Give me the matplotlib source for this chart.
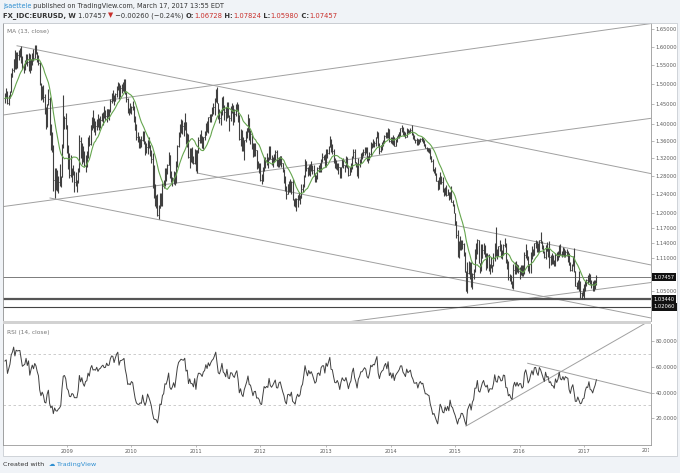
import numpy as np
import pandas as pd
import matplotlib
matplotlib.use('Agg')
import matplotlib.pyplot as plt
from matplotlib.patches import Rectangle
from matplotlib.ticker import FixedLocator, FormatStrFormatter, NullLocator
from matplotlib.transforms import Bbox, TransformedBbox, blended_transform_factory

W, H = 680, 473

# weekly closes Jul 2007 - Jan 14 2008, only used to warm up MA(13) and RSI(14)
close_2007 = [1.362, 1.378, 1.383, 1.370, 1.378, 1.374, 1.343, 1.365, 1.369, 1.375,
              1.388, 1.407, 1.426, 1.419, 1.418, 1.428, 1.435, 1.451, 1.467, 1.465,
              1.482, 1.463, 1.465, 1.443, 1.437, 1.459, 1.476, 1.478, 1.464]

# EURUSD weekly bars, first bar = week of Jan 21 2008
close_2008 = [1.476, 1.480, 1.451, 1.466, 1.481, 1.520, 1.536, 1.566, 1.545, 1.580,
              1.578, 1.580, 1.581, 1.563, 1.544, 1.548, 1.552, 1.576, 1.559, 1.578,
              1.538, 1.560, 1.580, 1.569, 1.593, 1.586, 1.569, 1.556, 1.501, 1.471,
              1.483, 1.467, 1.426, 1.421, 1.449, 1.463, 1.379, 1.342, 1.349, 1.271,
              1.293, 1.264, 1.259, 1.266, 1.270, 1.278, 1.345, 1.410, 1.414, 1.397]
high_2008 = [1.478, 1.489, 1.483, 1.472, 1.483, 1.530, 1.543, 1.568, 1.590, 1.585,
             1.585, 1.591, 1.598, 1.602, 1.575, 1.553, 1.563, 1.580, 1.580, 1.583,
             1.580, 1.567, 1.582, 1.595, 1.604, 1.604, 1.587, 1.578, 1.560, 1.504,
             1.495, 1.497, 1.475, 1.442, 1.447, 1.487, 1.468, 1.400, 1.382, 1.351,
             1.298, 1.298, 1.293, 1.279, 1.307, 1.281, 1.352, 1.472, 1.420, 1.426]
low_2008 = [1.453, 1.465, 1.449, 1.447, 1.464, 1.479, 1.518, 1.532, 1.539, 1.541,
            1.543, 1.564, 1.573, 1.557, 1.539, 1.530, 1.536, 1.552, 1.547, 1.535,
            1.529, 1.536, 1.551, 1.562, 1.570, 1.580, 1.558, 1.550, 1.497, 1.459,
            1.463, 1.455, 1.424, 1.388, 1.393, 1.446, 1.374, 1.339, 1.334, 1.248,
            1.233, 1.250, 1.248, 1.242, 1.257, 1.256, 1.277, 1.343, 1.388, 1.389]

close_2009 = [1.339, 1.327, 1.283, 1.280, 1.294, 1.289, 1.266, 1.266, 1.266, 1.291,
              1.359, 1.327, 1.348, 1.317, 1.302, 1.325, 1.328, 1.367, 1.353, 1.397,
              1.415, 1.396, 1.398, 1.396, 1.411, 1.396, 1.407, 1.411, 1.420, 1.425,
              1.418, 1.419, 1.436, 1.430, 1.432, 1.457, 1.470, 1.469, 1.456, 1.474,
              1.491, 1.501, 1.472, 1.491, 1.492, 1.495, 1.500, 1.476, 1.461, 1.434,
              1.436, 1.433]
high_2009 = [1.398, 1.350, 1.331, 1.327, 1.298, 1.305, 1.290, 1.289, 1.272, 1.297,
             1.374, 1.368, 1.356, 1.348, 1.336, 1.327, 1.336, 1.369, 1.373, 1.397,
             1.418, 1.434, 1.415, 1.408, 1.412, 1.424, 1.416, 1.419, 1.426, 1.430,
             1.444, 1.434, 1.437, 1.436, 1.437, 1.461, 1.478, 1.484, 1.473, 1.478,
             1.496, 1.506, 1.503, 1.497, 1.501, 1.505, 1.514, 1.514, 1.481, 1.464,
             1.440, 1.451]
low_2009 = [1.332, 1.295, 1.276, 1.277, 1.267, 1.282, 1.246, 1.257, 1.245, 1.264,
            1.289, 1.320, 1.307, 1.311, 1.302, 1.289, 1.300, 1.321, 1.349, 1.350,
            1.386, 1.390, 1.382, 1.373, 1.386, 1.392, 1.385, 1.390, 1.407, 1.399,
            1.416, 1.409, 1.404, 1.417, 1.409, 1.430, 1.453, 1.457, 1.448, 1.456,
            1.468, 1.486, 1.462, 1.466, 1.478, 1.482, 1.480, 1.474, 1.455, 1.427,
            1.421, 1.427]

close_2010 = [1.441, 1.438, 1.414, 1.387, 1.368, 1.362, 1.361, 1.364, 1.362, 1.377,
              1.353, 1.339, 1.346, 1.361, 1.350, 1.336, 1.317, 1.276, 1.235, 1.228,
              1.226, 1.197, 1.212, 1.239, 1.236, 1.259, 1.264, 1.293, 1.291, 1.305,
              1.328, 1.276, 1.267, 1.275, 1.289, 1.271, 1.305, 1.349, 1.378, 1.388,
              1.397, 1.395, 1.394, 1.404, 1.367, 1.371, 1.323, 1.341, 1.322, 1.322,
              1.309, 1.338]
high_2010 = [1.445, 1.458, 1.445, 1.420, 1.400, 1.381, 1.372, 1.364, 1.372, 1.383,
             1.383, 1.359, 1.356, 1.363, 1.369, 1.350, 1.339, 1.331, 1.305, 1.262,
             1.239, 1.240, 1.217, 1.242, 1.243, 1.264, 1.271, 1.298, 1.297, 1.307,
             1.333, 1.326, 1.291, 1.278, 1.291, 1.289, 1.313, 1.351, 1.380, 1.400,
             1.412, 1.409, 1.404, 1.428, 1.402, 1.379, 1.377, 1.344, 1.344, 1.345,
             1.325, 1.342]
low_2010 = [1.425, 1.435, 1.404, 1.386, 1.361, 1.357, 1.344, 1.343, 1.345, 1.360,
            1.352, 1.327, 1.332, 1.329, 1.344, 1.326, 1.309, 1.253, 1.232, 1.215,
            1.211, 1.194, 1.188, 1.211, 1.216, 1.215, 1.253, 1.259, 1.270, 1.284,
            1.305, 1.276, 1.266, 1.259, 1.263, 1.260, 1.265, 1.301, 1.345, 1.368,
            1.378, 1.377, 1.371, 1.386, 1.353, 1.346, 1.321, 1.297, 1.312, 1.310,
            1.306, 1.307]

close_2011 = [1.292, 1.338, 1.362, 1.362, 1.358, 1.350, 1.369, 1.375, 1.402, 1.390,
              1.418, 1.408, 1.424, 1.436, 1.443, 1.460, 1.481, 1.453, 1.420, 1.416,
              1.433, 1.464, 1.435, 1.430, 1.418, 1.450, 1.418, 1.415, 1.440, 1.439,
              1.429, 1.424, 1.440, 1.449, 1.421, 1.365, 1.379, 1.350, 1.339, 1.362,
              1.376, 1.391, 1.414, 1.378, 1.376, 1.353, 1.324, 1.338, 1.339, 1.304,
              1.305, 1.296]
high_2011 = [1.339, 1.338, 1.369, 1.376, 1.386, 1.372, 1.370, 1.383, 1.403, 1.408,
             1.418, 1.425, 1.425, 1.443, 1.452, 1.465, 1.487, 1.494, 1.453, 1.436,
             1.432, 1.468, 1.470, 1.447, 1.441, 1.455, 1.454, 1.422, 1.445, 1.453,
             1.446, 1.437, 1.449, 1.455, 1.449, 1.422, 1.389, 1.385, 1.370, 1.362,
             1.383, 1.389, 1.425, 1.415, 1.386, 1.379, 1.355, 1.354, 1.355, 1.339,
             1.313, 1.310]
low_2011 = [1.292, 1.287, 1.332, 1.355, 1.355, 1.343, 1.342, 1.361, 1.373, 1.381,
            1.379, 1.405, 1.404, 1.419, 1.425, 1.422, 1.455, 1.451, 1.412, 1.402,
            1.397, 1.421, 1.434, 1.410, 1.407, 1.416, 1.422, 1.384, 1.407, 1.427,
            1.399, 1.404, 1.420, 1.433, 1.406, 1.362, 1.349, 1.336, 1.336, 1.315,
            1.357, 1.366, 1.382, 1.361, 1.353, 1.342, 1.323, 1.325, 1.324, 1.295,
            1.298, 1.286]

close_2012 = [1.272, 1.268, 1.294, 1.321, 1.315, 1.320, 1.316, 1.345, 1.319, 1.312,
              1.318, 1.326, 1.334, 1.308, 1.307, 1.321, 1.324, 1.308, 1.292, 1.278,
              1.252, 1.241, 1.263, 1.264, 1.257, 1.266, 1.229, 1.224, 1.216, 1.230,
              1.238, 1.229, 1.233, 1.251, 1.257, 1.280, 1.313, 1.298, 1.286, 1.304,
              1.295, 1.302, 1.294, 1.283, 1.271, 1.275, 1.297, 1.299, 1.293, 1.316,
              1.322, 1.322, 1.307]
high_2012 = [1.308, 1.285, 1.299, 1.322, 1.323, 1.332, 1.322, 1.349, 1.349, 1.327,
             1.322, 1.330, 1.339, 1.338, 1.318, 1.322, 1.326, 1.325, 1.310, 1.295,
             1.280, 1.257, 1.263, 1.270, 1.274, 1.268, 1.273, 1.230, 1.233, 1.233,
             1.239, 1.245, 1.238, 1.263, 1.262, 1.282, 1.317, 1.313, 1.299, 1.304,
             1.306, 1.314, 1.304, 1.305, 1.286, 1.282, 1.299, 1.304, 1.309, 1.317,
             1.331, 1.328, 1.330]
low_2012 = [1.270, 1.262, 1.270, 1.290, 1.298, 1.304, 1.297, 1.316, 1.318, 1.304,
            1.300, 1.311, 1.316, 1.303, 1.300, 1.300, 1.305, 1.300, 1.288, 1.264,
            1.248, 1.229, 1.240, 1.246, 1.245, 1.240, 1.228, 1.216, 1.214, 1.204,
            1.213, 1.227, 1.220, 1.232, 1.246, 1.255, 1.277, 1.291, 1.280, 1.283,
            1.279, 1.290, 1.285, 1.280, 1.267, 1.266, 1.273, 1.288, 1.288, 1.288,
            1.312, 1.315, 1.299]

close_2013 = [1.338, 1.331, 1.346, 1.364, 1.337, 1.336, 1.319, 1.302, 1.301, 1.307,
              1.299, 1.282, 1.299, 1.311, 1.305, 1.303, 1.311, 1.299, 1.283, 1.294,
              1.300, 1.322, 1.334, 1.312, 1.301, 1.283, 1.306, 1.314, 1.328, 1.328,
              1.334, 1.340, 1.337, 1.322, 1.318, 1.329, 1.352, 1.349, 1.356, 1.355,
              1.368, 1.380, 1.349, 1.336, 1.350, 1.356, 1.359, 1.371, 1.378, 1.368,
              1.389, 1.359]
high_2013 = [1.340, 1.341, 1.349, 1.371, 1.365, 1.352, 1.340, 1.320, 1.315, 1.310,
             1.308, 1.300, 1.300, 1.319, 1.320, 1.305, 1.324, 1.323, 1.300, 1.300,
             1.310, 1.324, 1.342, 1.342, 1.312, 1.309, 1.320, 1.317, 1.331, 1.335,
             1.340, 1.345, 1.345, 1.345, 1.324, 1.333, 1.357, 1.355, 1.365, 1.360,
             1.370, 1.383, 1.381, 1.354, 1.350, 1.357, 1.363, 1.375, 1.381, 1.381,
             1.390, 1.383]
low_2013 = [1.299, 1.321, 1.329, 1.346, 1.335, 1.329, 1.310, 1.298, 1.295, 1.293,
            1.284, 1.275, 1.275, 1.299, 1.298, 1.289, 1.300, 1.297, 1.280, 1.282,
            1.289, 1.296, 1.321, 1.310, 1.300, 1.281, 1.276, 1.300, 1.310, 1.318,
            1.326, 1.327, 1.331, 1.314, 1.310, 1.316, 1.326, 1.343, 1.346, 1.346,
            1.348, 1.366, 1.347, 1.330, 1.335, 1.339, 1.349, 1.354, 1.367, 1.366,
            1.366, 1.358]

close_2014 = [1.367, 1.354, 1.368, 1.349, 1.363, 1.369, 1.374, 1.380, 1.391, 1.391,
              1.379, 1.375, 1.370, 1.388, 1.381, 1.384, 1.387, 1.376, 1.371, 1.363,
              1.363, 1.364, 1.354, 1.361, 1.364, 1.360, 1.361, 1.352, 1.343, 1.343,
              1.341, 1.340, 1.324, 1.313, 1.295, 1.296, 1.283, 1.268, 1.252, 1.263,
              1.276, 1.267, 1.248, 1.245, 1.253, 1.239, 1.245, 1.229, 1.245, 1.223,
              1.218, 1.200]
high_2014 = [1.368, 1.370, 1.373, 1.370, 1.364, 1.371, 1.377, 1.382, 1.391, 1.397,
             1.393, 1.383, 1.381, 1.390, 1.388, 1.387, 1.390, 1.399, 1.378, 1.375,
             1.364, 1.367, 1.365, 1.364, 1.366, 1.370, 1.366, 1.362, 1.352, 1.346,
             1.343, 1.343, 1.340, 1.323, 1.319, 1.296, 1.299, 1.287, 1.271, 1.277,
             1.289, 1.280, 1.278, 1.254, 1.255, 1.260, 1.252, 1.246, 1.246, 1.257,
             1.227, 1.220]
low_2014 = [1.355, 1.352, 1.350, 1.348, 1.348, 1.358, 1.366, 1.366, 1.372, 1.382,
            1.374, 1.371, 1.367, 1.369, 1.378, 1.379, 1.379, 1.375, 1.365, 1.362,
            1.355, 1.350, 1.350, 1.353, 1.357, 1.359, 1.356, 1.349, 1.343, 1.337,
            1.333, 1.332, 1.319, 1.312, 1.292, 1.286, 1.282, 1.268, 1.250, 1.253,
            1.262, 1.262, 1.245, 1.236, 1.239, 1.237, 1.240, 1.228, 1.229, 1.223,
            1.215, 1.200]

close_2015 = [1.184, 1.156, 1.120, 1.129, 1.131, 1.139, 1.138, 1.119, 1.084, 1.050,
              1.082, 1.090, 1.097, 1.060, 1.080, 1.087, 1.120, 1.120, 1.145, 1.101,
              1.096, 1.111, 1.126, 1.135, 1.117, 1.110, 1.116, 1.088, 1.098, 1.098,
              1.097, 1.111, 1.138, 1.118, 1.115, 1.134, 1.130, 1.120, 1.121, 1.136,
              1.135, 1.102, 1.101, 1.074, 1.077, 1.065, 1.059, 1.088, 1.099, 1.087,
              1.097, 1.086]
high_2015 = [1.201, 1.184, 1.165, 1.143, 1.153, 1.145, 1.145, 1.139, 1.122, 1.087,
             1.104, 1.105, 1.104, 1.103, 1.082, 1.089, 1.129, 1.139, 1.147, 1.146,
             1.102, 1.138, 1.138, 1.139, 1.136, 1.120, 1.120, 1.119, 1.099, 1.112,
             1.098, 1.121, 1.140, 1.171, 1.129, 1.133, 1.145, 1.138, 1.127, 1.138,
             1.150, 1.139, 1.108, 1.105, 1.081, 1.079, 1.068, 1.099, 1.104, 1.105,
             1.099, 1.097]
low_2015 = [1.176, 1.149, 1.112, 1.110, 1.127, 1.127, 1.128, 1.115, 1.084, 1.050,
            1.046, 1.080, 1.072, 1.056, 1.052, 1.071, 1.085, 1.108, 1.118, 1.101,
            1.082, 1.087, 1.110, 1.118, 1.113, 1.088, 1.091, 1.087, 1.081, 1.092,
            1.084, 1.096, 1.105, 1.115, 1.109, 1.115, 1.125, 1.110, 1.109, 1.117,
            1.132, 1.101, 1.089, 1.070, 1.067, 1.062, 1.055, 1.052, 1.080, 1.080,
            1.084, 1.083]

close_2016 = [1.092, 1.092, 1.080, 1.083, 1.116, 1.126, 1.113, 1.093, 1.100, 1.115,
              1.127, 1.117, 1.139, 1.140, 1.128, 1.122, 1.145, 1.140, 1.131, 1.122,
              1.113, 1.137, 1.125, 1.127, 1.112, 1.114, 1.105, 1.104, 1.098, 1.117,
              1.109, 1.116, 1.132, 1.118, 1.116, 1.123, 1.116, 1.123, 1.121, 1.120,
              1.097, 1.088, 1.098, 1.103, 1.086, 1.059, 1.059, 1.066, 1.056, 1.045,
              1.046, 1.052]
high_2016 = [1.094, 1.097, 1.097, 1.098, 1.123, 1.138, 1.127, 1.114, 1.100, 1.122,
             1.134, 1.128, 1.140, 1.145, 1.144, 1.140, 1.146, 1.162, 1.144, 1.136,
             1.124, 1.137, 1.141, 1.130, 1.143, 1.117, 1.120, 1.116, 1.107, 1.120,
             1.123, 1.125, 1.136, 1.138, 1.124, 1.133, 1.130, 1.127, 1.128, 1.124,
             1.121, 1.103, 1.099, 1.114, 1.130, 1.087, 1.065, 1.069, 1.087, 1.067,
             1.048, 1.055]
low_2016 = [1.071, 1.078, 1.077, 1.077, 1.080, 1.110, 1.107, 1.087, 1.082, 1.082,
            1.109, 1.114, 1.116, 1.131, 1.123, 1.122, 1.122, 1.140, 1.128, 1.120,
            1.110, 1.108, 1.126, 1.113, 1.091, 1.098, 1.100, 1.100, 1.095, 1.096,
            1.106, 1.107, 1.113, 1.117, 1.112, 1.116, 1.113, 1.112, 1.114, 1.104,
            1.097, 1.086, 1.086, 1.096, 1.085, 1.059, 1.052, 1.053, 1.050, 1.037,
            1.035, 1.040]

close_2017 = [1.053, 1.064, 1.070, 1.069, 1.078, 1.063, 1.062, 1.056, 1.062, 1.067, 1.075]
high_2017 = [1.062, 1.068, 1.071, 1.078, 1.083, 1.080, 1.070, 1.068, 1.069, 1.070, 1.078]
low_2017 = [1.034, 1.049, 1.058, 1.062, 1.066, 1.062, 1.055, 1.049, 1.049, 1.052, 1.060]

price_ticks = [1.65, 1.60, 1.55, 1.50, 1.45, 1.40, 1.36, 1.32, 1.28, 1.24,
               1.20, 1.17, 1.14, 1.11, 1.05]
levels = [1.07457, 1.03440, 1.02060]
rsi_ticks = [20, 40, 60, 80]

# drawn trendlines: (bar index, price) -> (bar index, price)
price_lines = [((9.7, 1.603), (521.05, 1.2852)),
               ((-1.6, 1.4222), (521.05, 1.6658)),
               ((-1.6, 1.2140), (521.05, 1.4141)),
               ((36.3, 1.2322), (521.05, 1.0014)),
               ((154.9, 1.2866), (521.05, 1.0975)),
               ((270.2, 0.9929), (521.05, 1.0647))]
rsi_lines = [((371.8, 14.1), (530.0, 100.9)),
             ((421.6, 62.6), (521.05, 39.4))]

years_close = [close_2008, close_2009, close_2010, close_2011, close_2012,
               close_2013, close_2014, close_2015, close_2016, close_2017]
years_high = [high_2008, high_2009, high_2010, high_2011, high_2012,
              high_2013, high_2014, high_2015, high_2016, high_2017]
years_low = [low_2008, low_2009, low_2010, low_2011, low_2012,
             low_2013, low_2014, low_2015, low_2016, low_2017]

close = np.array(sum(years_close, []))
high = np.array(sum(years_high, []))
low = np.array(sum(years_low, []))
n = len(close)
opens = np.concatenate([[close_2007[-1]], close[:-1]])
high = np.maximum(high, np.maximum(opens, close))
low = np.minimum(low, np.minimum(opens, close))

full = np.concatenate([close_2007, close])
warm = len(close_2007)
ma13 = pd.Series(full).rolling(13).mean().values[warm:]


def rsi14(c):
    d = np.diff(c)
    g = np.where(d > 0, d, 0.0)
    l = np.where(d < 0, -d, 0.0)
    out = np.full(len(c), np.nan)
    ag, al = g[:14].mean(), l[:14].mean()
    out[14] = 100 - 100 / (1 + ag / al)
    for k in range(14, len(d)):
        ag = (ag * 13 + g[k]) / 14
        al = (al * 13 + l[k]) / 14
        out[k + 1] = 100 - 100 / (1 + ag / al)
    return out


rsi = rsi14(full)[warm:]

weeks = pd.date_range('2008-01-21', '2018-02-01', freq='W-MON')
year_pos = [int(np.argmax(weeks.year == y)) for y in range(2009, 2019)]
year_lab = [str(y) for y in range(2009, 2019)]

bar_col = '#404040'
ma_col = '#66a64f'
line_col = '#a0a0a0'
txt_col = '#333333'
axis_txt = '#5a5a5a'
red = '#c9302c'
blue = '#2f8fd1'


def px_rect(x0, y0, x1, y1):
    return [x0 / W, 1 - y1 / H, (x1 - x0) / W, (y1 - y0) / H]


fig = plt.figure(figsize=(6.8, 4.73), dpi=100, facecolor='#f0f3f7')
fig.patches.append(Rectangle((3 / W, 1 - 456 / H), 674 / W, (456 - 22.7) / H,
                             transform=fig.transFigure, fc='white', ec='#c9cdd3',
                             lw=0.6, zorder=-5))

xs = np.arange(n)
xlim = (-1.6, 521.05)

# price pane
ax = fig.add_axes(px_rect(3, 22.7, 651, 321))
ax.set_facecolor('none')
ax.set_yscale('log')
ax.set_xlim(*xlim)
ax.set_ylim(0.9962, 1.6682)
for (x0, y0), (x1, y1) in price_lines:
    ax.plot([x0, x1], [y0, y1], color=line_col, lw=0.7, zorder=1)
ax.axhline(levels[0], color='#666666', lw=0.6, zorder=1)
ax.axhline(levels[1], color='#555555', lw=1.6, zorder=1)
ax.axhline(levels[2], color='#444444', lw=0.8, zorder=1)
ax.vlines(xs, low, high, color=bar_col, lw=0.8, zorder=2)
ax.hlines(opens, xs - 0.45, xs, color=bar_col, lw=0.5, zorder=2)
ax.hlines(close, xs, xs + 0.45, color=bar_col, lw=0.5, zorder=2)
ax.plot(xs, ma13, color=ma_col, lw=0.8, zorder=3)

ax.yaxis.tick_right()
ax.yaxis.set_major_locator(FixedLocator(price_ticks))
ax.yaxis.set_major_formatter(FormatStrFormatter('%.5f'))
ax.yaxis.set_minor_locator(NullLocator())
ax.yaxis.set_minor_formatter(plt.NullFormatter())
ax.tick_params(axis='y', which='major', labelsize=3.7, labelcolor=axis_txt,
               length=2, width=0.4, color='#888888', pad=1.5)
ax.set_xticks([])
ax.spines['bottom'].set_visible(False)
ax.spines['top'].set_color('#c9cdd3')
ax.spines['left'].set_color('#999999')
ax.spines['right'].set_color('#999999')
for s in ax.spines.values():
    s.set_linewidth(0.6)

tr = blended_transform_factory(ax.transAxes, ax.transData)
for lv in levels:
    ax.text(1.004, lv, f'{lv:.5f}', transform=tr, fontsize=3.7, color='white',
            va='center', ha='left', clip_on=False, zorder=5,
            bbox=dict(boxstyle='square,pad=0.3', fc='#111111', ec='none'))

# separator between panes
fig.patches.append(Rectangle((3 / W, 1 - 323.5 / H), 648 / W, 2.5 / H,
                             transform=fig.transFigure, fc='#d2d2d2', ec='none'))

# RSI pane
ax2 = fig.add_axes(px_rect(3, 323.5, 651, 445))
ax2.set_facecolor('none')
ax2.set_xlim(*xlim)
ax2.set_ylim(-0.5, 93.3)
ax2.axhline(70, color='#c4c4c4', lw=0.6, ls=(0, (3, 3)))
ax2.axhline(30, color='#c4c4c4', lw=0.6, ls=(0, (3, 3)))
for (x0, y0), (x1, y1) in rsi_lines:
    ax2.plot([x0, x1], [y0, y1], color=line_col, lw=0.7)
ax2.plot(xs, rsi, color='#3f3f3f', lw=0.7)

ax2.yaxis.tick_right()
ax2.set_yticks(rsi_ticks)
ax2.yaxis.set_major_formatter(FormatStrFormatter('%.4f'))
ax2.tick_params(axis='y', labelsize=3.7, labelcolor=axis_txt, length=2,
                width=0.4, color='#888888', pad=1.5)
ax2.set_xticks(year_pos[:-1])
ax2.set_xticklabels(year_lab[:-1])
ax2.tick_params(axis='x', labelsize=3.6, labelcolor=axis_txt, length=1.5,
                width=0.4, color='#888888', pad=1.5)
ax2.spines['top'].set_visible(False)
for s in ['left', 'right', 'bottom']:
    ax2.spines[s].set_color('#999999')
    ax2.spines[s].set_linewidth(0.6)

# last year label is cut by the price scale
clip = TransformedBbox(Bbox([[0, 0], [649 / W, 1]]), fig.transFigure)
xd = ax2.transData.transform((year_pos[-1], 0))[0]
t = fig.text(xd / fig.bbox.width, 1 - 450.5 / H, year_lab[-1], fontsize=3.6,
             color=axis_txt, ha='center', va='center')
t.set_clip_box(clip)
t.set_clip_on(True)

fig.text(7 / W, 1 - 32 / H, 'MA (13, close)', fontsize=4.2, color='#777777',
         va='center')
fig.text(7 / W, 1 - 332.7 / H, 'RSI (14, close)', fontsize=4.2, color='#777777',
         va='center')

renderer = fig.canvas.get_renderer()


def runs(x, y, parts, size):
    for s, col, wt in parts:
        tt = fig.text(x / W, 1 - y / H, s, fontsize=size, color=col,
                      fontweight=wt, va='center', ha='left')
        x += tt.get_window_extent(renderer).width


runs(3, 6, [('jsaettele', blue, 'normal'),
            (' published on TradingView.com, March 17, 2017 13:55 EDT', txt_col, 'normal')], 4.7)
runs(3, 15.5, [('FX_IDC:EURUSD, W', txt_col, 'bold'),
               (' 1.07457 ', txt_col, 'normal'),
               ('\u25bc', red, 'normal'),
               (' \u22120.00260 (\u22120.24%) ', txt_col, 'normal'),
               ('O:', txt_col, 'bold'), ('1.06728', red, 'normal'),
               (' H:', txt_col, 'bold'), ('1.07824', red, 'normal'),
               (' L:', txt_col, 'bold'), ('1.05980', red, 'normal'),
               (' C:', txt_col, 'bold'), ('1.07457', red, 'normal')], 4.9)
runs(3, 464.5, [('Created with  ', txt_col, 'normal'),
                ('\u2601', blue, 'normal'),
                (' TradingView', blue, 'normal')], 4.6)

fig.savefig('out.png', dpi=100, facecolor=fig.get_facecolor())
